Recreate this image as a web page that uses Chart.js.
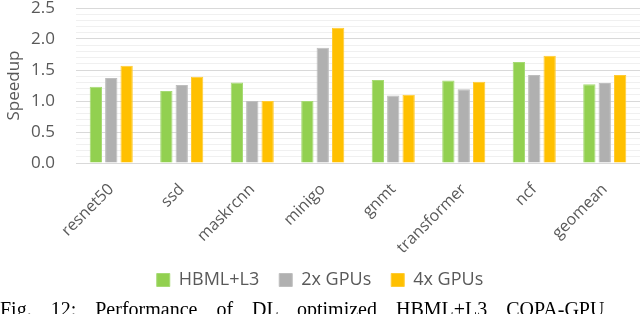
<!DOCTYPE html>
<html>
<head>
<meta charset="utf-8">
<script src="https://cdn.jsdelivr.net/npm/chart.js@4/dist/chart.umd.min.js"></script>
<style>
  html, body { margin: 0; padding: 0; background: #fff; }
  #wrap { position: relative; width: 640px; height: 314px; overflow: hidden; }
  #c { position: absolute; left: 0; top: 0; }
  #cap { position: absolute; left: 0; top: 298px; width: 700px; white-space: nowrap;
         font-family: "Liberation Serif", "Times New Roman", serif; font-size: 20px; color: #000;
         word-spacing: 14px; line-height: 23px; }
</style>
</head>
<body>
<div id="wrap">
  <canvas id="c" width="640" height="314"></canvas>
  <div id="cap">Fig. 12: Performance of DL optimized HBML+L3 COPA-GPU</div>
</div>
<script>
const categories = ["resnet50", "ssd", "maskrcnn", "minigo", "gnmt", "transformer", "ncf", "geomean"];
const seriesNames = ["HBML+L3", "2x GPUs", "4x GPUs"];
const hbmlL3 = [1.23, 1.16, 1.30, 1.00, 1.34, 1.33, 1.63, 1.27];
const gpus2x = [1.37, 1.26, 1.00, 1.86, 1.09, 1.19, 1.42, 1.29];
const gpus4x = [1.57, 1.39, 1.00, 2.18, 1.10, 1.31, 1.73, 1.42];
const yTicks = [0.0, 0.5, 1.0, 1.5, 2.0, 2.5];

const fills = ["#92D050", "#B0B0B0", "#FFC000"];
const borders = ["#A6DA74", "#BEBEBE", "#FFCB33"];
const txt = "#595959";
const FONT = "'Open Sans', 'Noto Sans', sans-serif";

new Chart(document.getElementById('c'), {
  type: 'bar',
  data: {
    labels: categories,
    datasets: [hbmlL3, gpus2x, gpus4x].map((d, i) => ({
      label: seriesNames[i],
      data: d,
      backgroundColor: fills[i],
      borderColor: borders[i],
      borderWidth: 1,
      categoryPercentage: 0.655,
      barPercentage: 0.8
    }))
  },
  options: {
    responsive: false,
    animation: false,
    devicePixelRatio: 1,
    layout: { padding: { left: 0, right: 0, top: 8, bottom: 15 } },
    plugins: {
      tooltip: { enabled: false },
      legend: {
        position: 'bottom',
        labels: {
          color: txt,
          font: { family: FONT, size: 18 },
          boxWidth: 13,
          boxHeight: 13,
          padding: 20
        }
      }
    },
    scales: {
      x: {
        afterFit: (s) => { s.height = 88; s._computeLabelArea = () => undefined; },
        grid: { display: false, drawTicks: false },
        border: { display: false },
        ticks: {
          color: txt,
          font: { family: FONT, size: 16 },
          minRotation: 45,
          maxRotation: 45,
          padding: 17
        }
      },
      y: {
        min: 0,
        max: 2.5,
        afterFit: (s) => { s.width = 76; s.paddingTop = 0; s.paddingBottom = 0; },
        title: {
          display: true,
          text: 'Speedup',
          color: txt,
          font: { family: FONT, size: 17 },
          padding: { top: 4, bottom: 3 }
        },
        border: { display: false },
        grid: {
          drawTicks: false,
          color: (ctx) => {
            const v = ctx.tick ? ctx.tick.value : 0;
            return yTicks.some(t => Math.abs(t - v) < 1e-6) ? '#D9D9D9' : '#F0F0F0';
          },
          lineWidth: 1
        },
        ticks: {
          stepSize: 0.1,
          color: txt,
          font: { family: FONT, size: 17 },
          padding: 21,
          autoSkip: false,
          callback: (v) => {
            const hit = yTicks.find(t => Math.abs(t - v) < 1e-6);
            return hit !== undefined ? hit.toFixed(1) : '';
          }
        }
      }
    }
  }
});
</script>
</body>
</html>
